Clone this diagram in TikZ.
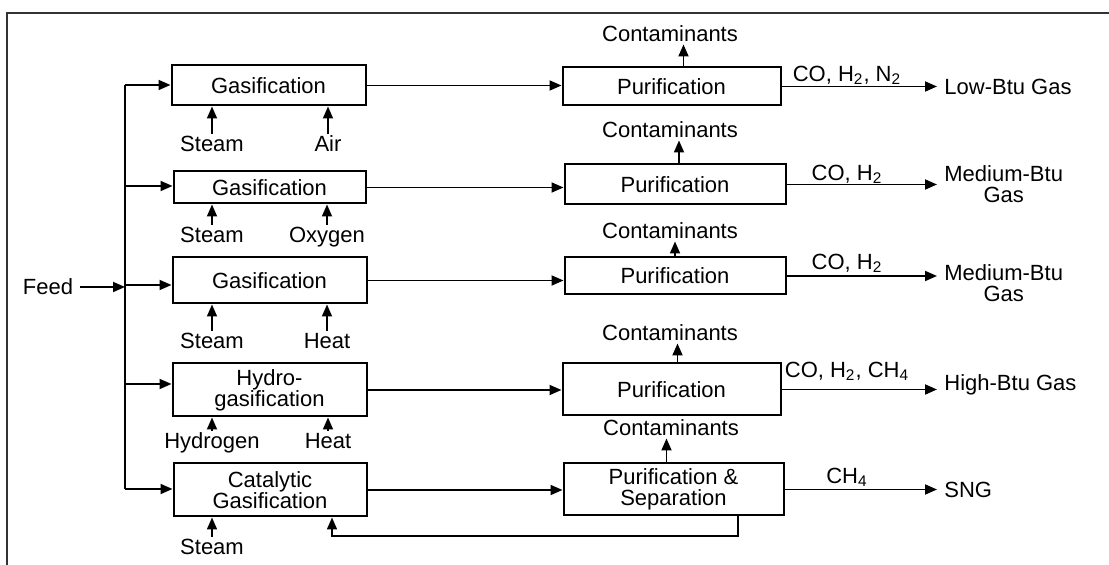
\documentclass[tikz,border=0pt]{standalone}
\usepackage{fontspec}
\setmainfont{Liberation Sans}
\usetikzlibrary{arrows.meta}
\begin{document}
\begin{tikzpicture}[x=0.5pt, y=-0.5pt, >={Triangle[length=6pt,width=5pt]},
  every node/.style={font=\fontsize{11}{10.5}\selectfont},
  unit/.style={draw, line width=1pt, align=center, inner sep=2pt},
  feedin/.style={inner sep=1pt, text height=8pt, text depth=2pt},
  waste/.style={inner sep=1pt},
  product/.style={anchor=west, align=center, inner sep=3.5pt},
  flow/.style={->, line width=0.9pt}]
  \useasboundingbox (0,0) rectangle (1109,565);
  \draw[line width=1pt, black!80] (7,565) -- (7,13) -- (1109,13);
  % gasifiers
  \node[unit, minimum width=97pt, minimum height=20pt] (g1) at (268.5,85.5) {Gasification};
  \node[unit, minimum width=96pt, minimum height=16pt] (g2) at (269.5,187.5) {Gasification};
  \node[unit, minimum width=97pt, minimum height=23pt] (g3) at (269.5,280.5) {Gasification};
  \node[unit, minimum width=97pt, minimum height=26.5pt] (g4) at (269.5,390) {Hydro-\\gasification};
  \node[unit, minimum width=96.5pt, minimum height=26.5pt] (g5) at (270,490) {Catalytic\\Gasification};
  % purification units
  \node[unit, minimum width=109pt, minimum height=19pt] (p1) at (671.5,86.5) {Purification};
  \node[unit, minimum width=110.5pt, minimum height=20pt] (p2) at (675,184.5) {Purification};
  \node[unit, minimum width=110.5pt, minimum height=18.5pt] (p3) at (675,276) {Purification};
  \node[unit, minimum width=109pt, minimum height=26pt] (p4) at (671.5,389.5) {Purification};
  \node[unit, minimum width=110pt, minimum height=26pt] (p5) at (673.5,489.5) {Purification \&\\Separation};

  % feed and distribution line
  \node (feed) at (48,287) {Feed};
  \coordinate (t1) at (125,85);
  \coordinate (t2) at (125,186);
  \coordinate (t3) at (125,285);
  \coordinate (t4) at (125,384);
  \coordinate (t5) at (125,489);
  \draw[line width=0.9pt] (t1) -- (t5);
  \draw[flow] (feed.east) -- (feed.east -| t3);
  \draw[flow] (t1) -- (t1 -| g1.west);
  \draw[flow] (t2) -- (t2 -| g2.west);
  \draw[flow] (t3) -- (t3 -| g3.west);
  \draw[flow] (t4) -- (t4 -| g4.west);
  \draw[flow] (t5) -- (t5 -| g5.west);

  % gasifier inputs
  \node[feedin] (s1) at (212,146) {Steam};
  \node[feedin] (a1) at (328,146) {Air};
  \node[feedin] (s2) at (212,237) {Steam};
  \node[feedin] (a2) at (327,237) {Oxygen};
  \node[feedin] (s3) at (212,343) {Steam};
  \node[feedin] (a3) at (327,343) {Heat};
  \node[feedin] (s4) at (212,443) {Hydrogen};
  \node[feedin] (a4) at (328,443) {Heat};
  \node[feedin] (s5) at (212,549) {Steam};
  \draw[flow] (s1.north) -- (s1.north |- g1.south);
  \draw[flow] (a1.north) -- (a1.north |- g1.south);
  \draw[flow] (s2.north) -- (s2.north |- g2.south);
  \draw[flow] (a2.north) -- (a2.north |- g2.south);
  \draw[flow] (s3.north) -- (s3.north |- g3.south);
  \draw[flow] (a3.north) -- (a3.north |- g3.south);
  \draw[flow] (s4.north) -- (s4.north |- g4.south);
  \draw[flow] (a4.north) -- (a4.north |- g4.south);
  \draw[flow] (s5.north) -- (s5.north |- g5.south);

  % raw gas to purification
  \draw[flow] (g1.east) -- (g1.east -| p1.west);
  \draw[flow] (g2.east) -- (g2.east -| p2.west);
  \draw[flow] (g3.east) -- (g3.east -| p3.west);
  \draw[flow] (g4.east) -- (g4.east -| p4.west);
  \draw[flow] (g5.east) -- (g5.east -| p5.west);

  % contaminants
  \node[waste] (c1) at (670,34) {Contaminants};
  \node[waste] (c2) at (670,130) {Contaminants};
  \node[waste] (c3) at (670,231) {Contaminants};
  \node[waste] (c4) at (670,333) {Contaminants};
  \node[waste] (c5) at (671,428) {Contaminants};
  \draw[flow] ([xshift=6pt]p1.north) -- ([xshift=6pt]p1.north |- c1.south);
  \draw[flow] ([xshift=2pt]p2.north) -- ([xshift=2pt]p2.north |- c2.south);
  \draw[flow] (p3.north) -- (p3.north |- c3.south);
  \draw[flow] ([xshift=3pt]p4.north) -- ([xshift=3pt]p4.north |- c4.south);
  \draw[flow] ([xshift=-3.5pt]p5.north) -- ([xshift=-3.5pt]p5.north |- c5.south);

  % products
  \node[product] (o1) at (937,86.5) {Low-Btu Gas};
  \node[product] (o2) at (937,184.5) {Medium-Btu\\Gas};
  \node[product] (o3) at (937,283.5) {Medium-Btu\\Gas};
  \node[product] (o4) at (937,385) {High-Btu Gas};
  \node[product] (o5) at (937,490) {SNG};
  \draw[flow] (p1.east) -- (p1.east -| o1.west);
  \draw[flow] (p2.east) -- (p2.east -| o2.west);
  \draw[flow] (p3.east) -- (p3.east -| o3.west);
  \draw[flow] (p4.east) -- (p4.east -| o4.west);
  \draw[flow] (p5.east) -- (p5.east -| o5.west);
  \node (m1) at (847,75) {CO, H\textsubscript{2}, N\textsubscript{2}};
  \node (m2) at (847,174) {CO, H\textsubscript{2}};
  \node (m3) at (847,263) {CO, H\textsubscript{2}};
  \node (m4) at (847,371) {CO, H\textsubscript{2}, CH\textsubscript{4}};
  \node (m5) at (847,477) {CH\textsubscript{4}};

  % recycle to catalytic gasifier
  \coordinate (r1) at (738,536);
  \coordinate (r2) at (332,536);
  \draw[flow] (r1 |- p5.south) -- (r1) -- (r2) -- (r2 |- g5.south);
\end{tikzpicture}
\end{document}
